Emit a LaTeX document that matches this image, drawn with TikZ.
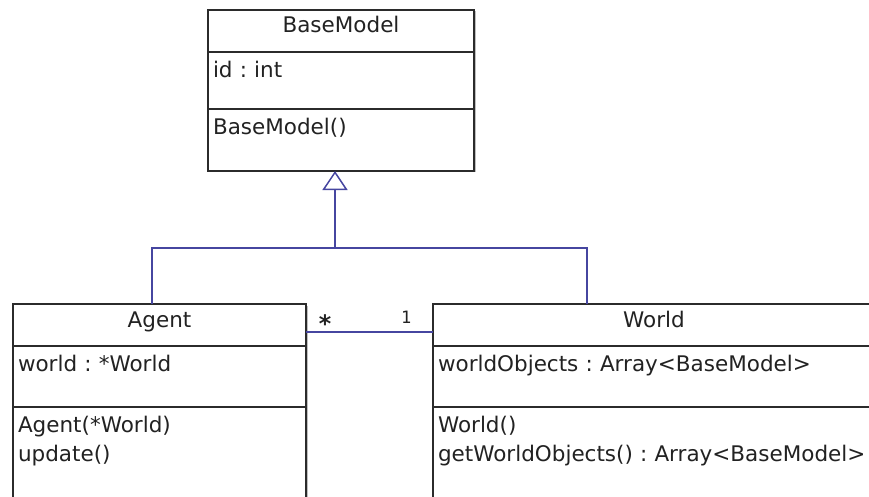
\documentclass[tikz,border=0pt]{standalone}
\usepackage{fontspec}
\newfontfamily\umlfont{DejaVu Sans}
\newfontfamily\umlmono{DejaVu Sans Mono}
\usepackage{xcolor}
\definecolor{cLine}{HTML}{2B2B2B}
\definecolor{cText}{HTML}{222222}
\definecolor{cLink}{HTML}{4646A0}
\usetikzlibrary{arrows.meta,shadows}
\frenchspacing
\tikzset{
  cls-box/.style={draw=cLine,line width=1.5pt,fill=white,text=cText,
    anchor=north west,outer sep=0pt,
    drop shadow={shadow xshift=1.5pt,shadow yshift=-1.5pt,fill=black,opacity=.25}},
  cls-head/.style={cls-box,inner sep=0pt,minimum width=#1,text width=#1,
    align=center,text height=23pt,text depth=19pt},
  % compartment: width, height; first baseline 25.5pt below the top rule
  cls-part/.style 2 args={cls-box,inner xsep=5pt,inner ysep=0pt,
    text width=#1-10pt,align=left,text height=25.5pt,text depth=#2-25.5pt},
  link/.style={draw=cLink,line width=1.5pt},
  link-inherit/.style={link,-{Triangle[open,length=19pt,width=25pt,line width=1.5pt]}},
  mult/.style={font=\umlmono\fontsize{17}{17}\selectfont,inner sep=0pt,text=cText},
}

\begin{document}
\begin{tikzpicture}[x=1pt,y=-1pt,font=\umlfont\fontsize{21.5}{29}\selectfont]
  \useasboundingbox (0,0) rectangle (869,497);
  \clip (0,0) rectangle (869,497);

  % BaseModel
  \node[cls-head=266pt] (base-head) at (208,10) {BaseModel};
  \node[cls-part={266pt}{57pt}] (base-attr) at (base-head.south west) {id : int};
  \node[cls-part={266pt}{62pt}] (base-ops) at (base-attr.south west) {BaseModel()};

  % Agent
  \node[cls-head=293pt] (agent-head) at (13,304) {Agent};
  \node[cls-part={293pt}{61pt}] (agent-attr) at (agent-head.south west) {world : *World};
  \node[cls-part={293pt}{110pt}] (agent-ops) at (agent-attr.south west)
    {Agent(*World)\\update()};

  % World
  \node[cls-head=442pt] (world-head) at (433,304) {World};
  \node[cls-part={442pt}{61pt}] (world-attr) at (world-head.south west)
    {worldObjects : Array<BaseModel>};
  \node[cls-part={442pt}{110pt}] (world-ops) at (world-attr.south west)
    {World()\\getWorldObjects() : Array<BaseModel>};

  % generalisation
  \coordinate (fork) at (335,248);
  \draw[link] ([xshift=139pt]agent-head.north west) |- (fork)
    -| ([xshift=154pt]world-head.north west);
  \draw[link-inherit] (fork) -- (fork |- base-ops.south);

  % association
  \draw[link] ([yshift=-7pt]agent-head.east) -- ([yshift=-7pt]world-head.west)
    node[mult,pos=.15,yshift=8pt,font=\umlmono\bfseries\fontsize{24}{24}\selectfont] {*}
    node[mult,pos=.79,yshift=15pt] {1};
\end{tikzpicture}
\end{document}
